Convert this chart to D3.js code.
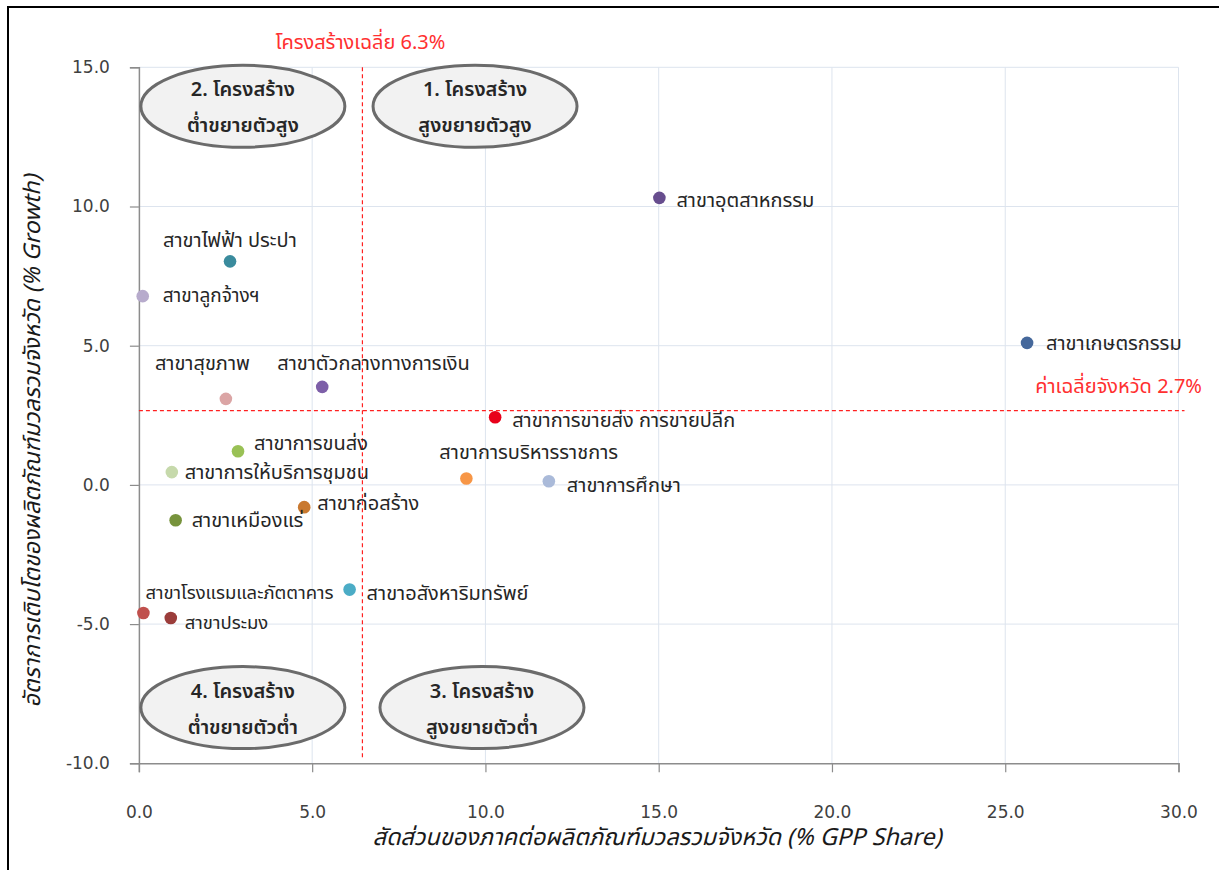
<!DOCTYPE html>
<html>
<head>
<meta charset="utf-8">
<script src="https://cdn.jsdelivr.net/npm/d3@7"></script>
<style>
  html, body { margin: 0; padding: 0; background: #fff; }
  svg { display: block; }
  text { font-family: "Noto Sans Thai", "Tahoma", "Leelawadee UI", "Noto Sans", sans-serif; }
</style>
</head>
<body>
<svg id="chart" width="1219" height="870"></svg>
<script>
// ---- data ----
const sectors = ["สาขาอุตสาหกรรม","สาขาเกษตรกรรม","สาขาไฟฟ้า ประปา","สาขาลูกจ้างฯ","สาขาสุขภาพ","สาขาตัวกลางทางการเงิน","สาขาการขายส่ง การขายปลีก","สาขาการขนส่ง","สาขาการให้บริการชุมชน","สาขาการบริหารราชการ","สาขาการศึกษา","สาขาก่อสร้าง","สาขาเหมืองแร่","สาขาอสังหาริมทรัพย์","สาขาโรงแรมและภัตตาคาร","สาขาประมง"];
const gppShare = [15.02, 25.63, 2.63, 0.11, 2.51, 5.29, 10.28, 2.86, 0.95, 9.45, 11.83, 4.77, 1.06, 6.08, 0.13, 0.92];
const growth   = [10.31, 5.10, 8.03, 6.78, 3.09, 3.52, 2.43, 1.21, 0.46, 0.23, 0.13, -0.80, -1.27, -3.76, -4.60, -4.78];
const xTicks = [0, 5, 10, 15, 20, 25, 30];
const yTicks = [-10, -5, 0, 5, 10, 15];
const avgShare = 6.45;      // vertical reference line (labelled 6.3%)
const avgGrowth = 2.67;     // horizontal reference line (labelled 2.7%)
const avgShareLabel = "โครงสร้างเฉลี่ย 6.3%";
const avgGrowthLabel = "ค่าเฉลี่ยจังหวัด 2.7%";
const quadrantLines = [["2. โครงสร้าง","ต่ำขยายตัวสูง"],["1. โครงสร้าง","สูงขยายตัวสูง"],["4. โครงสร้าง","ต่ำขยายตัวต่ำ"],["3. โครงสร้าง","สูงขยายตัวต่ำ"]];
const xTitle = "สัดส่วนของภาคต่อผลิตภัณฑ์มวลรวมจังหวัด (% GPP Share)";
const yTitle = "อัตราการเติบโตของผลิตภัณฑ์มวลรวมจังหวัด (% Growth)";

// ---- styles / layout ----
const colors = ["#674d8e","#45689b","#3a8b9d","#b7abcc","#dba5a5","#7d5fa8","#e8001a","#99c155","#c6d9ab","#f79646","#aabad9","#c97930","#77933c","#4bacc6","#c0504d","#9b3d3b"];
const labelOffsets = [[17,3],[19,1],[-67,-20],[20,0],[-71,-35],[-45,-23],[17,4],[16,-7],[13,1],[-27,-25],[18,5],[13,-3],[16,1],[17,4],[2,-20],[14,5]];
const labelSizes = [20,20,20,19,20,20,20,20,20,20,20,20,20,20,18.5,18.5];
// quadrant ellipse centres in data coords
const quadCenters = [[3.0, 13.6],[9.7, 13.6],[3.0, -8.0],[9.9, -8.0]];

const svg = d3.select("#chart");
const x = d3.scaleLinear().domain([0, 30]).range([138.9, 1178.5]);
const y = d3.scaleLinear().domain([-10, 15]).range([763.3, 67.3]);
const fmt = d => d.toFixed(1);

// frame
svg.append("rect").attr("x", 8).attr("y", 7).attr("width", 1300).attr("height", 1000)
  .attr("fill", "none").attr("stroke", "#000").attr("stroke-width", 2);

// grid
svg.append("g").selectAll("line").data(xTicks.filter(d => d > 0)).join("line")
  .attr("x1", d => x(d)).attr("x2", d => x(d)).attr("y1", y(15)).attr("y2", y(-10))
  .attr("stroke", "#dde4ee").attr("stroke-width", 1);
svg.append("g").selectAll("line").data(yTicks.filter(d => d > -10)).join("line")
  .attr("x1", x(0)).attr("x2", x(30)).attr("y1", d => y(d)).attr("y2", d => y(d))
  .attr("stroke", "#dde4ee").attr("stroke-width", 1);

// axes
const xAxis = svg.append("g").attr("transform", `translate(0,${y(-10)})`)
  .call(d3.axisBottom(x).tickValues(xTicks).tickFormat(fmt).tickSizeOuter(0).tickSize(9).tickPadding(34));
const yAxis = svg.append("g").attr("transform", `translate(${x(0)},0)`)
  .call(d3.axisLeft(y).tickValues(yTicks).tickFormat(fmt).tickSizeOuter(0).tickSize(9).tickPadding(20));
[xAxis, yAxis].forEach(g => {
  g.select(".domain").attr("stroke", "#8c8c8c").attr("stroke-width", 1.5);
  g.selectAll(".tick line").attr("stroke", "#8c8c8c").attr("stroke-width", 1.2);
  g.selectAll(".tick text").attr("fill", "#404040").style("font-size", "17px")
   .style("font-family", "Tahoma, 'DejaVu Sans', sans-serif");
});

// reference lines
svg.append("line").attr("x1", x(avgShare)).attr("x2", x(avgShare)).attr("y1", y(15)).attr("y2", y(-9.8))
  .attr("stroke", "#ff2020").attr("stroke-width", 1.2).attr("stroke-dasharray", "4,3");
svg.append("line").attr("x1", x(0)).attr("x2", x(30) + 6).attr("y1", y(avgGrowth)).attr("y2", y(avgGrowth))
  .attr("stroke", "#ff2020").attr("stroke-width", 1.2).attr("stroke-dasharray", "4,3");
svg.append("text").attr("x", x(avgShare) - 2).attr("y", 43).attr("text-anchor", "middle")
  .attr("dominant-baseline", "central").attr("fill", "#ff3030").style("font-size", "20px").text(avgShareLabel);
svg.append("text").attr("x", 1202).attr("y", 387).attr("text-anchor", "end")
  .attr("dominant-baseline", "central").attr("fill", "#ff3030").style("font-size", "20px").text(avgGrowthLabel);

// quadrant ellipses
const q = svg.append("g").selectAll("g").data(quadrantLines).join("g")
  .attr("transform", (d, i) => `translate(${x(quadCenters[i][0])},${y(quadCenters[i][1])})`);
q.append("ellipse").attr("rx", 102).attr("ry", 41).attr("fill", "#f2f2f2")
  .attr("stroke", "#6b6b6b").attr("stroke-width", 3);
q.selectAll("text").data(d => d).join("text")
  .attr("x", 0).attr("y", (d, i) => i === 0 ? -16 : 20).attr("text-anchor", "middle")
  .attr("dominant-baseline", "central").attr("fill", "#262626")
  .style("font-size", "20px").style("font-weight", "600").text(d => d);

// points
const pts = sectors.map((s, i) => ({ s, x: gppShare[i], y: growth[i], c: colors[i], o: labelOffsets[i], fs: labelSizes[i] }));
svg.append("g").selectAll("circle").data(pts).join("circle")
  .attr("cx", d => x(d.x)).attr("cy", d => y(d.y)).attr("r", 6.3).attr("fill", d => d.c);
svg.append("g").selectAll("text").data(pts).join("text")
  .attr("x", d => x(d.x) + d.o[0]).attr("y", d => y(d.y) + d.o[1])
  .attr("dominant-baseline", "central").attr("fill", "#262626").style("font-size", d => d.fs + "px")
  .text(d => d.s);

// axis titles
svg.append("text").attr("x", 657).attr("y", 838).attr("text-anchor", "middle")
  .attr("dominant-baseline", "central").attr("fill", "#1a1a1a").style("font-size", "23.5px")
  .style("font-style", "italic").text(xTitle);
svg.append("text").attr("transform", "translate(33,441) rotate(-90)").attr("text-anchor", "middle")
  .attr("dominant-baseline", "central").attr("fill", "#1a1a1a").style("font-size", "23px")
  .style("font-style", "italic").text(yTitle);
</script>
</body>
</html>
